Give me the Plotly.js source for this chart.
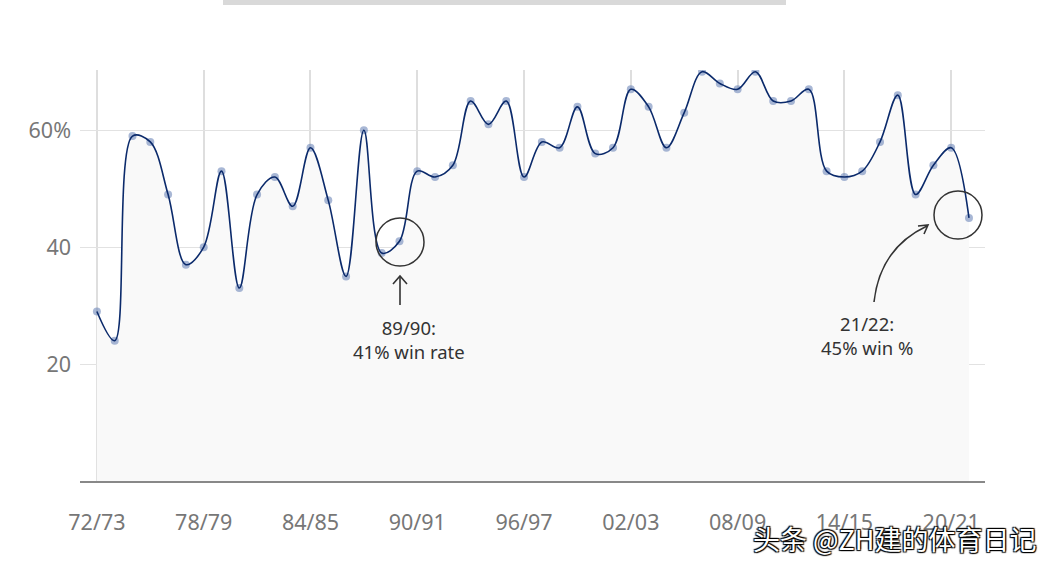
<!DOCTYPE html>
<html>
<head>
<meta charset="utf-8">
<script src="https://cdn.plot.ly/plotly-3.0.1.min.js"></script>
<style>
  html, body { margin: 0; padding: 0; background: #fff; }
  #chart { width: 1054px; height: 568px; }
</style>
</head>
<body>
<div id="chart"></div>
<script>
var seasons = ['72/73', '73/74', '74/75', '75/76', '76/77', '77/78', '78/79', '79/80', '80/81', '81/82',
               '82/83', '83/84', '84/85', '85/86', '86/87', '87/88', '88/89', '89/90', '90/91', '91/92',
               '92/93', '93/94', '94/95', '95/96', '96/97', '97/98', '98/99', '99/00', '00/01', '01/02',
               '02/03', '03/04', '04/05', '05/06', '06/07', '07/08', '08/09', '09/10', '10/11', '11/12',
               '12/13', '13/14', '14/15', '15/16', '16/17', '17/18', '18/19', '19/20', '20/21', '21/22']

var winRate = [29, 24, 59, 58, 49, 37, 40, 53, 33, 49,
               52, 47, 57, 48, 35, 60, 39, 41, 53, 52,
               54, 65, 61, 65, 52, 58, 57, 64, 56, 57,
               67, 64, 57, 63, 70, 68, 67, 70, 65, 65,
               67, 53, 52, 53, 58, 66, 49, 54, 57, 45]

var xTicks = ['72/73', '78/79', '84/85', '90/91', '96/97', '02/03', '08/09', '14/15', '20/21']
var yTicks = [20, 40, 60]
var yTickText = ['20', '40', '60%']

// plot area in pixels: left 80, right 985, top 70, bottom 481
function px(x) { return (x - 80) / 905 }
function py(y) { return (481 - y) / 411 }

var traceFill = {
    x: seasons,
    y: winRate,
    type: 'scatter',
    mode: 'none',
    fill: 'tozeroy',
    fillcolor: '#f9f9f9',
    line: { shape: 'spline', smoothing: 1 },
    hoverinfo: 'skip'
}

var traceDots = {
    x: seasons,
    y: winRate,
    type: 'scatter',
    mode: 'markers',
    marker: { size: 8, color: 'rgba(110,135,185,0.6)' }
}

var traceLine = {
    x: seasons,
    y: winRate,
    type: 'scatter',
    mode: 'lines',
    line: { shape: 'spline', smoothing: 1, color: '#0b2a6b', width: 1.6 }
}

var noteFont = { family: 'Noto Sans, Open Sans, sans-serif', size: 18.5, color: '#333' }

var layout = {
    width: 1054,
    height: 568,
    margin: { l: 80, r: 69, t: 70, b: 87 },
    showlegend: false,
    paper_bgcolor: '#fff',
    plot_bgcolor: '#fff',
    font: { family: 'Noto Sans, Open Sans, sans-serif' },
    xaxis: {
        type: 'category',
        range: [-0.95, 49.9],
        tickvals: xTicks,
        ticktext: xTicks,
        showgrid: true,
        gridcolor: '#dedede',
        gridwidth: 2,
        ticks: '',
        ticklabelstandoff: 21,
        tickfont: { size: 21.5, color: '#777' },
        showline: true,
        linecolor: '#888',
        linewidth: 2,
        zeroline: false,
        fixedrange: true
    },
    yaxis: {
        range: [0, 70.3],
        tickvals: yTicks,
        ticktext: yTickText,
        showgrid: true,
        gridcolor: '#e2e2e2',
        gridwidth: 1,
        ticks: '',
        ticklabelstandoff: 8,
        tickfont: { size: 21.5, color: '#777' },
        zeroline: false,
        showline: false,
        fixedrange: true
    },
    shapes: [
        // cut-off title bar at the top
        { type: 'rect', xref: 'paper', yref: 'paper', x0: px(223), x1: px(786), y0: py(5), y1: py(-2),
          fillcolor: '#d9d9d9', line: { width: 0 } },
        // circles
        { type: 'circle', xref: 'paper', yref: 'paper', x0: px(376), x1: px(424), y0: py(266), y1: py(218),
          line: { color: '#333', width: 1.5 } },
        { type: 'circle', xref: 'paper', yref: 'paper', x0: px(934), x1: px(982), y0: py(239), y1: py(191),
          line: { color: '#333', width: 1.5 } },
        // straight arrow
        { type: 'path', xref: 'paper', yref: 'paper',
          path: 'M ' + px(400) + ',' + py(305) + ' L ' + px(400) + ',' + py(276),
          line: { color: '#333', width: 1.6 } },
        { type: 'path', xref: 'paper', yref: 'paper',
          path: 'M ' + px(393) + ',' + py(284) + ' L ' + px(400) + ',' + py(276) + ' L ' + px(407) + ',' + py(284),
          line: { color: '#333', width: 1.6 } },
        // curved arrow
        { type: 'path', xref: 'paper', yref: 'paper',
          path: 'M ' + px(874) + ',' + py(302) + ' Q ' + px(880) + ',' + py(248) + ' ' + px(927) + ',' + py(226),
          line: { color: '#333', width: 1.6 } },
        { type: 'path', xref: 'paper', yref: 'paper',
          path: 'M ' + px(918) + ',' + py(226) + ' L ' + px(928) + ',' + py(225) + ' L ' + px(924) + ',' + py(234),
          line: { color: '#333', width: 1.6 } }
    ],
    annotations: [
        { xref: 'paper', yref: 'paper', x: px(409), y: py(339), xanchor: 'center', yanchor: 'middle',
          showarrow: false, text: '89/90:<br>41% win rate', font: noteFont, align: 'center' },
        { xref: 'paper', yref: 'paper', x: px(867), y: py(335), xanchor: 'center', yanchor: 'middle',
          showarrow: false, text: '21/22:<br>45% win %', font: noteFont, align: 'center' },
        { xref: 'paper', yref: 'paper', x: px(895), y: py(538), xanchor: 'center', yanchor: 'middle',
          showarrow: false, text: '头条 @ZH建的体育日记',
          font: { family: 'Noto Sans CJK SC, sans-serif', size: 27, color: '#fff',
                  shadow: '1px 1px 1px #000, -1px -1px 1px #000, 1px -1px 1px #000, -1px 1px 1px #000' } }
    ]
}

Plotly.newPlot('chart', [traceFill, traceDots, traceLine], layout, { staticPlot: true })
</script>
</body>
</html>
